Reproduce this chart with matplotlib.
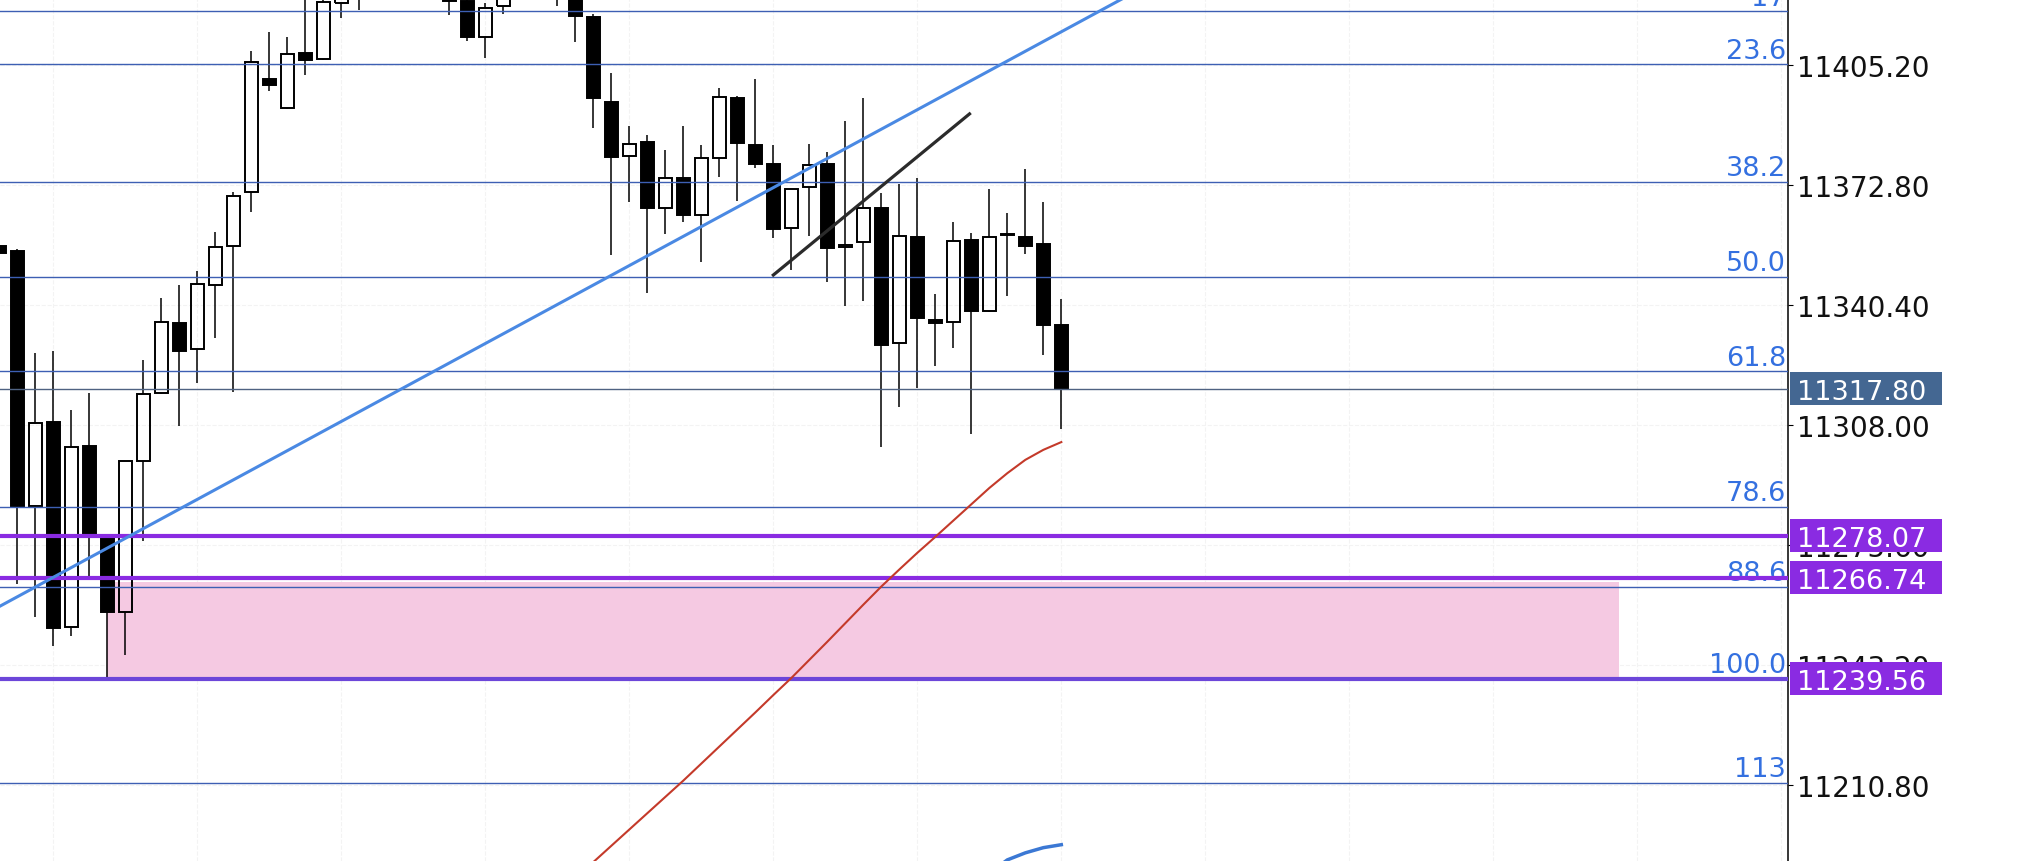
import numpy as np
import matplotlib
matplotlib.use("Agg")
import matplotlib.pyplot as plt
from matplotlib.patches import Rectangle

# candles, index 0 is the partly hidden one on the left edge
opens = [11356.4, 11354.9, 11286.2, 11308.7, 11253.4, 11302.3, 11277.4, 11257.6, 11298.2, 11316.6,
         11335.5, 11328.4, 11345.8, 11356.4, 11370.8, 11401.4, 11393.5, 11408.4, 11406.8, 11421.9,
         11438.0, 11428.0, 11442.0, 11436.0, 11447.0, 11432.0, 11422.4, 11412.7, 11421.0, 11431.0,
         11436.0, 11429.0, 11432.0, 11418.1, 11395.1, 11380.5, 11384.3, 11366.7, 11374.6, 11364.8,
         11380.0, 11396.3, 11383.6, 11378.5, 11361.3, 11372.2, 11378.5, 11356.0, 11357.3, 11366.5,
         11330.1, 11358.9, 11336.4, 11335.7, 11358.0, 11338.9, 11359.3, 11358.9, 11356.9, 11335.0]
highs = [11358.0, 11355.5, 11327.4, 11328.1, 11312.0, 11316.6, 11278.1, 11298.4, 11325.5, 11342.3,
         11345.8, 11349.5, 11360.0, 11370.8, 11408.9, 11414.1, 11412.7, 11426.0, 11428.0, 11436.0,
         11444.0, 11448.0, 11452.0, 11456.6, 11450.0, 11438.0, 11427.0, 11421.9, 11434.0, 11440.0,
         11442.0, 11438.0, 11436.0, 11419.0, 11403.0, 11388.8, 11386.3, 11382.3, 11388.8, 11383.6,
         11399.0, 11396.9, 11401.4, 11383.6, 11371.8, 11383.9, 11381.8, 11390.0, 11396.3, 11370.6,
         11373.1, 11374.6, 11343.4, 11362.7, 11359.8, 11371.7, 11365.3, 11377.1, 11368.3, 11342.0]
lows = [11350.0, 11265.1, 11256.3, 11248.3, 11251.0, 11266.9, 11239.56, 11246.0, 11276.8, 11316.3,
        11307.8, 11319.3, 11331.6, 11317.0, 11365.6, 11398.3, 11393.3, 11402.5, 11406.6, 11417.9,
        11420.1, 11424.0, 11430.0, 11428.0, 11426.0, 11418.7, 11411.8, 11407.1, 11419.0, 11425.0,
        11427.0, 11421.2, 11411.3, 11388.1, 11353.9, 11368.3, 11343.6, 11359.7, 11362.9, 11352.1,
        11374.9, 11368.6, 11377.3, 11358.4, 11349.9, 11359.1, 11346.5, 11340.2, 11341.6, 11302.0,
        11312.8, 11317.9, 11323.9, 11328.7, 11305.6, 11338.6, 11342.9, 11354.2, 11327.0, 11306.9]
closes = [11354.4, 11286.2, 11308.5, 11253.1, 11302.0, 11278.4, 11257.6, 11298.2, 11316.3, 11335.7,
          11327.9, 11346.0, 11356.0, 11369.7, 11405.9, 11399.9, 11408.2, 11406.6, 11422.1, 11430.0,
          11428.0, 11442.0, 11436.0, 11447.0, 11432.0, 11422.6, 11412.8, 11420.5, 11431.0, 11436.0,
          11429.0, 11433.0, 11418.3, 11396.2, 11380.3, 11383.8, 11366.7, 11374.6, 11364.8, 11380.0,
          11396.5, 11384.1, 11378.6, 11360.9, 11371.6, 11378.2, 11355.7, 11356.7, 11366.5, 11329.7,
          11359.1, 11336.8, 11335.5, 11357.6, 11338.9, 11358.7, 11359.4, 11356.4, 11335.1, 11317.8]

# moving averages
red_ma_x = list(range(32, 60))
red_ma = [11185.5, 11190.0, 11194.4, 11198.8, 11203.2, 11207.6, 11212.0, 11216.6, 11221.2, 11225.8,
          11230.4, 11235.1, 11239.7, 11244.6, 11249.5, 11254.5, 11259.5, 11264.4, 11269.0, 11273.5,
          11277.8, 11282.2, 11286.6, 11291.0, 11295.0, 11298.6, 11301.3, 11303.4]
blue_ma_x = [55, 56, 57, 58, 59]
blue_ma = [11187.0, 11190.6, 11192.5, 11193.9, 11194.7]

# drawn lines
blue_trend = [(0, 11259.0), (60, 11416.8)]
black_trend_x = [43.0, 53.9]
black_trend_y = [11348.5, 11392.0]

# fibonacci retracement
fib_labels = ["17", "23.6", "38.2", "50.0", "61.8", "78.6", "88.6", "100.0", "113"]
fib_ratios = [17.0, 23.6, 38.2, 50.0, 61.8, 78.6, 88.6, 100.0, 113.0]
fib_high = 11456.6
fib_low = 11239.56

zone_x = [6, 90]
zone_low, zone_high = 11239.0, 11265.7

purple_levels = [11278.07, 11266.74, 11239.56]
purple_colors = ["#8a2be2", "#8a2be2", "#6c46d9"]
last_price = 11317.80
yticks = [11405.20, 11372.80, 11340.40, 11308.00, 11275.60, 11243.20, 11210.80]

fig = plt.figure(figsize=(20.42, 8.62), dpi=100)
ax = fig.add_axes([0, 0, 1788 / 2042, 1])

x = np.arange(len(opens))
o = np.array(opens); h = np.array(highs); l = np.array(lows); c = np.array(closes)
top = np.maximum(o, c)
bot = np.minimum(o, c)
up = c >= o

# pink zone under the candles, hollow bodies let it show through
ax.fill_between(zone_x, zone_low, zone_high, color="#f5c9e2", lw=0, zorder=1)

ax.vlines(x, top, h, color="black", lw=1.1, zorder=2)
ax.vlines(x, l, bot, color="black", lw=1.1, zorder=2)
ax.bar(x, np.maximum(top - bot, 0.25), bottom=bot, width=0.7,
       color=["none" if u else "black" for u in up], edgecolor="black", linewidth=1.4, zorder=2.2)

for lab, r in zip(fib_labels, fib_ratios):
    lvl = fib_low + (1 - r / 100) * (fib_high - fib_low)
    ax.axhline(lvl, color="#3d5fb3", lw=1.0, zorder=3)
    ax.annotate(lab, xy=(1, lvl), xycoords=ax.get_yaxis_transform(), xytext=(-1.4, 4.8),
                textcoords="offset points", ha="right", va="baseline", fontsize=19.5,
                color="#3470e0", zorder=3.2)

ax.axhline(last_price, color="#4f6282", lw=1.0, zorder=3)
for lvl, col in zip(purple_levels, purple_colors):
    ax.axhline(lvl, color=col, lw=3.0, zorder=3.5)

ax.axline(blue_trend[0], blue_trend[1], color="#4a89e3", lw=2.2, zorder=4)
ax.plot(black_trend_x, black_trend_y, color="#2b2b2b", lw=2.3, zorder=4)
ax.plot(red_ma_x, red_ma, color="#c43a2a", lw=1.5, zorder=4)
ax.plot(blue_ma_x, blue_ma, color="#3b78d4", lw=2.5, zorder=4)

ax.set_xlim(0.039, 99.37)
ax.set_ylim(11190.3, 11423.02)

ax.yaxis.tick_right()
ax.set_yticks(yticks)
ax.set_yticklabels([f"{v:.2f}" for v in yticks])
ax.tick_params(axis="y", length=3.6, width=0.8, pad=2.9, labelsize=20, labelcolor="#111111")
ax.set_xticks(np.arange(3, 100, 8))
ax.tick_params(axis="x", length=0, labelbottom=False)
ax.grid(True, color="#f3f3f3", lw=0.8, ls="--")
ax.set_axisbelow(True)
for s in ["left", "top", "bottom"]:
    ax.spines[s].set_visible(False)
ax.spines["right"].set_linewidth(1.1)

# price tags on the axis
tr = ax.get_yaxis_transform()
box_h = 33 / 3.704
tags = [(last_price, "#446792")] + list(zip(purple_levels, ["#8a2be2"] * 3))
for val, col in tags:
    ax.add_patch(Rectangle((1790 / 1788, val - box_h / 2), 152 / 1788, box_h, transform=tr,
                           facecolor=col, edgecolor="none", clip_on=False, zorder=6))
    ax.text(1796.7 / 1788, val, f"{val:.2f}", transform=tr, ha="left", va="center_baseline",
            fontsize=19.5, color="white", zorder=7, clip_on=False)

fig.savefig("out.png", dpi=100)
